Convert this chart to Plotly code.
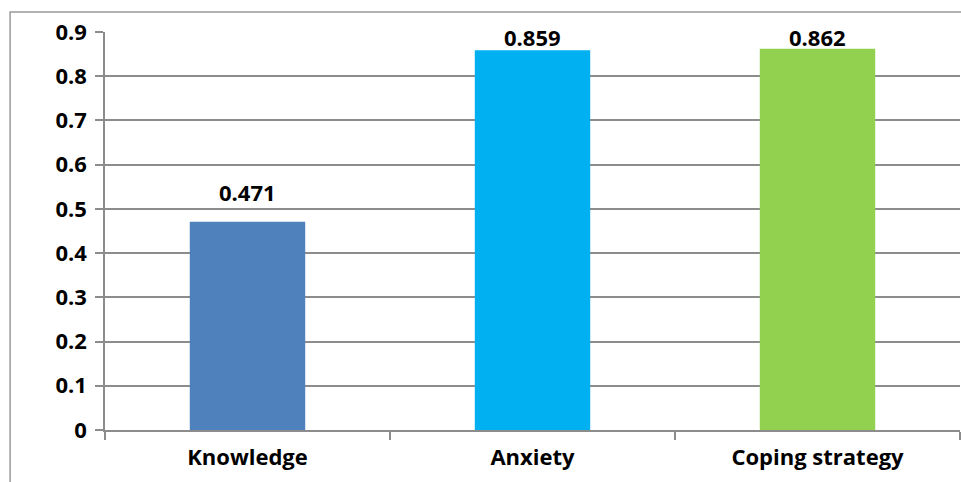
import plotly.graph_objects as go

categories = ["Knowledge", "Anxiety", "Coping strategy"]
values = [0.471, 0.859, 0.862]
labels = ["0.471", "0.859", "0.862"]
colors = ["#4F81BD", "#00B0F0", "#92D050"]
y_ticks = [0, 0.1, 0.2, 0.3, 0.4, 0.5, 0.6, 0.7, 0.8, 0.9]
y_tick_text = ["0", "0.1", "0.2", "0.3", "0.4", "0.5", "0.6", "0.7", "0.8", "0.9"]

font_family = "'Open Sans', sans-serif"
y_max = 0.9

fig = go.Figure(
    go.Bar(
        x=categories,
        y=values,
        marker=dict(color=colors, line=dict(width=0)),
        hoverinfo="x+y",
    )
)

# data labels: placed above each bar, kept inside the plot area (Excel style)
for cat, val, lab in zip(categories, values, labels):
    fig.add_annotation(
        x=cat,
        y=min(val + 0.068, y_max - 0.011),
        text=lab,
        showarrow=False,
        yanchor="middle",
        font=dict(family=font_family, size=22, color="black", weight="bold"),
    )

fig.update_layout(
    width=961,
    height=482,
    margin=dict(l=105, r=1, t=32, b=52),
    paper_bgcolor="white",
    plot_bgcolor="white",
    bargap=0.595,
    showlegend=False,
)

fig.update_yaxes(
    range=[0, y_max],
    tickvals=y_ticks,
    ticktext=y_tick_text,
    showgrid=True,
    gridcolor="#8c8c8c",
    gridwidth=1.5,
    showline=True,
    linecolor="#8c8c8c",
    linewidth=1.5,
    ticks="outside",
    ticklen=8,
    tickcolor="#8c8c8c",
    tickwidth=1.5,
    tickfont=dict(family=font_family, size=22, color="black", weight="bold"),
    ticklabelstandoff=4,
    zeroline=False,
)

fig.update_xaxes(
    showline=True,
    linecolor="#8c8c8c",
    linewidth=1.5,
    ticks="outside",
    tickson="boundaries",
    ticklen=8,
    tickcolor="#8c8c8c",
    tickwidth=1.5,
    tickfont=dict(family=font_family, size=22, color="black", weight="bold"),
    ticklabelstandoff=7,
    showgrid=False,
)

fig.add_shape(
    type="rect",
    xref="paper",
    yref="paper",
    x0=-0.111,
    x1=1.05,
    y0=-0.3,
    y1=1.05,
    line=dict(color="#999999", width=1.5),
    fillcolor="rgba(0,0,0,0)",
    layer="below",
)

fig.write_html("out.html")
